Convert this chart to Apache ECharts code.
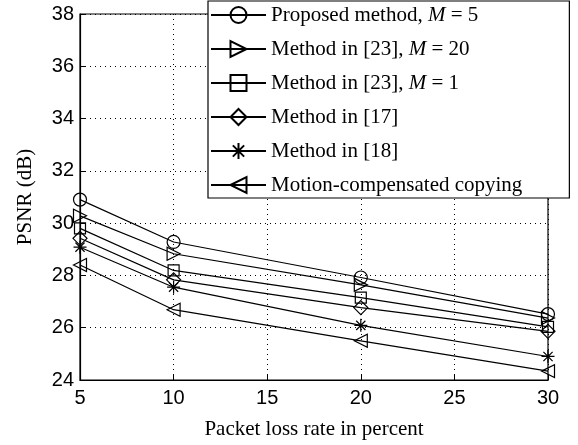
<!DOCTYPE html>
<html><head><meta charset="utf-8">
<script src="https://cdn.jsdelivr.net/npm/echarts@6/dist/echarts.min.js"></script>
<style>html,body{margin:0;padding:0;background:#fff}#c{width:578px;height:445px}</style>
</head><body><div id="c"></div>
<script>
var lossRates = [5, 10, 20, 30];
var proposedM5 = [30.9, 29.28, 27.92, 26.52];
var ref23M20 = [30.28, 28.83, 27.64, 26.37];
var ref23M1 = [29.8, 28.19, 27.15, 26.03];
var ref17 = [29.42, 27.83, 26.77, 25.86];
var ref18 = [29.08, 27.55, 26.09, 24.9];
var mcCopy = [28.4, 26.69, 25.5, 24.34];
var seriesNames = ['Proposed method, M = 5', 'Method in [23], M = 20', 'Method in [23], M = 1', 'Method in [17]', 'Method in [18]', 'Motion-compensated copying'];
var legendRich = ['Proposed method, {i|M} = 5', 'Method in [23], {i|M} = 20', 'Method in [23], {i|M} = 1', 'Method in [17]', 'Method in [18]', 'Motion-compensated copying'];

var star = 'path://M0,-10L0,10M-10,0L10,0M-7.07,-7.07L7.07,7.07M-7.07,7.07L7.07,-7.07';
var symbols = [
  {s: 'circle', r: 0, z: 13},
  {s: 'triangle', r: -90, z: 13},
  {s: 'rect', r: 0, z: 11},
  {s: 'diamond', r: 0, z: 14},
  {s: star, r: 0, z: 13},
  {s: 'triangle', r: 90, z: 13}
];
var allData = [proposedM5, ref23M20, ref23M1, ref17, ref18, mcCopy];

var series = allData.map(function (vals, k) {
  return {
    name: seriesNames[k],
    type: 'line',
    data: vals.map(function (v, i) { return [lossRates[i], v]; }),
    symbol: symbols[k].s,
    symbolRotate: symbols[k].r,
    symbolSize: symbols[k].z,
    showAllSymbol: true,
    lineStyle: {color: '#000', width: 1.2},
    itemStyle: {color: 'rgba(255,255,255,0)', borderColor: '#000', borderWidth: 1.2},
    emphasis: {disabled: true},
    animation: false
  };
});

var chart = echarts.init(document.getElementById('c'), null, {renderer: 'canvas'});
chart.setOption({
  backgroundColor: '#fff',
  animation: false,
  grid: {left: 80, right: 30, top: 14, bottom: 65, show: true, borderColor: '#000', borderWidth: 1.2, backgroundColor: 'transparent'},
  legend: {
    orient: 'vertical',
    left: 208, top: 1,
    padding: [3, 47, 2, 2],
    backgroundColor: '#fff',
    borderColor: '#000', borderWidth: 1.2,
    itemWidth: 55, itemHeight: 20, itemGap: 12,
    selectedMode: false,
    data: seriesNames,
    formatter: function (name) { return legendRich[seriesNames.indexOf(name)]; },
    textStyle: {
      fontFamily: 'Liberation Serif', fontSize: 21, color: '#000', lineHeight: 22,
      rich: {i: {fontFamily: 'Liberation Serif', fontStyle: 'italic', fontSize: 21, color: '#000', lineHeight: 22}}
    }
  },
  xAxis: {
    type: 'value', min: 5, max: 30, interval: 5,
    name: 'Packet loss rate in percent', nameLocation: 'middle', nameGap: 39,
    nameTextStyle: {fontFamily: 'Liberation Serif', fontSize: 21, color: '#000'},
    axisLine: {lineStyle: {color: '#000', width: 1.2}},
    axisTick: {inside: true, length: 5, lineStyle: {color: '#000'}},
    axisLabel: {fontFamily: 'Liberation Sans', fontSize: 20, color: '#000', margin: 8},
    splitLine: {show: true, lineStyle: {color: '#000', type: [1, 4], width: 1}}
  },
  yAxis: {
    type: 'value', min: 24, max: 38, interval: 2,
    name: 'PSNR (dB)', nameLocation: 'middle', nameGap: 44,
    nameTextStyle: {fontFamily: 'Liberation Serif', fontSize: 21, color: '#000'},
    axisLine: {lineStyle: {color: '#000', width: 1.2}},
    axisTick: {inside: true, length: 5, lineStyle: {color: '#000'}},
    axisLabel: {fontFamily: 'Liberation Sans', fontSize: 20, color: '#000', margin: 6},
    splitLine: {show: true, lineStyle: {color: '#000', type: [1, 4], width: 1}}
  },
  series: series
});
</script></body></html>
